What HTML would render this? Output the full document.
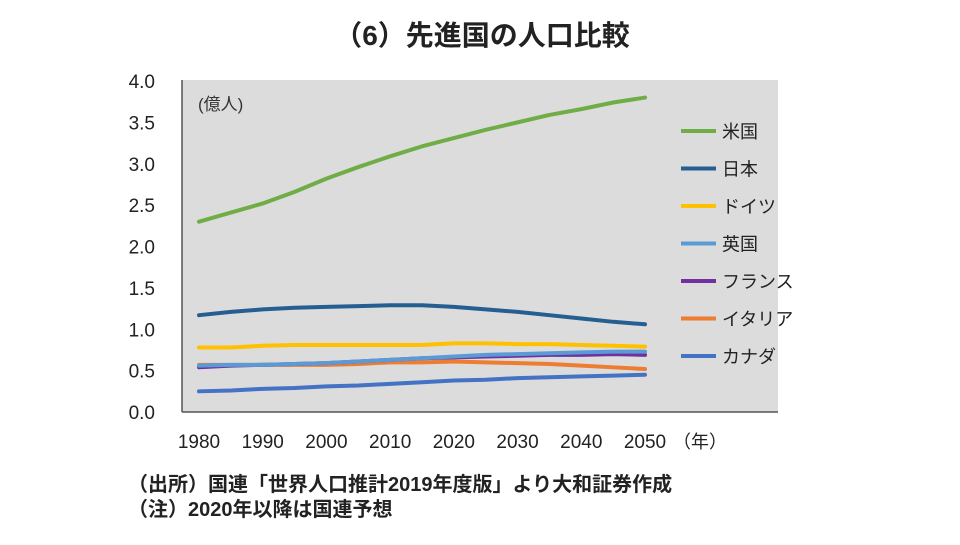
<!DOCTYPE html>
<html><head><meta charset="utf-8"><style>
body{margin:0;background:#fff;font-family:"Liberation Sans","Noto Sans CJK JP",sans-serif;}
svg text{font-family:"Liberation Sans","Noto Sans CJK JP",sans-serif;}
</style></head><body>
<svg id="c" width="960" height="540">
<text x="482" y="45" text-anchor="middle" font-size="28" font-weight="bold" fill="#222">（6）先進国の人口比較</text>
<rect x="182" y="80" width="596" height="332" fill="#dcdcdc"/>
<line x1="182" y1="80" x2="182" y2="412" stroke="#555" stroke-width="1.5"/>
<line x1="182" y1="412" x2="778" y2="412" stroke="#555" stroke-width="1.5"/>
<text x="198" y="110" font-size="17" fill="#333">(億人)</text>
<text x="673" y="448" font-size="18" fill="#222">（年）</text>
<g id="ticks"></g><g id="lines"></g><g id="legend"></g>
<text x="128" y="491" font-size="20" font-weight="bold" fill="#222">（出所）国連「世界人口推計2019年度版」より大和証券作成</text>
<text x="128" y="516" font-size="20" font-weight="bold" fill="#222">（注）2020年以降は国連予想</text>
</svg>
<script>
const years=[1980,1985,1990,1995,2000,2005,2010,2015,2020,2025,2030,2035,2040,2045,2050];
const seriesNames=["米国","日本","ドイツ","英国","フランス","イタリア","カナダ"];
const usa=[2.30,2.41,2.52,2.66,2.82,2.96,3.09,3.21,3.31,3.41,3.50,3.59,3.66,3.74,3.80];
const japan=[1.17,1.21,1.24,1.26,1.27,1.28,1.29,1.29,1.27,1.24,1.21,1.17,1.13,1.09,1.06];
const germany=[0.78,0.78,0.80,0.81,0.81,0.81,0.81,0.81,0.83,0.83,0.82,0.82,0.81,0.80,0.79];
const uk=[0.56,0.57,0.57,0.58,0.59,0.61,0.63,0.65,0.67,0.69,0.70,0.71,0.72,0.73,0.73];
const france=[0.54,0.56,0.57,0.58,0.59,0.61,0.63,0.65,0.66,0.67,0.68,0.69,0.69,0.70,0.69];
const italy=[0.57,0.57,0.57,0.57,0.57,0.58,0.60,0.60,0.61,0.60,0.59,0.58,0.56,0.54,0.52];
const canada=[0.25,0.26,0.28,0.29,0.31,0.32,0.34,0.36,0.38,0.39,0.41,0.42,0.43,0.44,0.45];
const yTicks=["0.0","0.5","1.0","1.5","2.0","2.5","3.0","3.5","4.0"];
const xTicks=["1980","1990","2000","2010","2020","2030","2040","2050"];
const colors=["#70ad47","#255e91","#ffc000","#5b9bd5","#7030a0","#ed7d31","#4472c4"];
const keys=["usa","japan","germany","uk","france","italy","canada"];
const allSeries=[usa,japan,germany,uk,france,italy,canada];
const NS="http://www.w3.org/2000/svg";
const xS=y=>199+(y-1980)*(645-199)/70;
const yS=v=>412-v*82.75;
const tk=document.getElementById('ticks');
yTicks.forEach(t=>{const e=document.createElementNS(NS,'text');
e.setAttribute('x',155);e.setAttribute('y',yS(parseFloat(t))+7);e.setAttribute('font-size',19);e.setAttribute('text-anchor','end');e.setAttribute('fill','#222');e.textContent=t;


tk.appendChild(e);});
xTicks.forEach(t=>{const e=document.createElementNS(NS,'text');
e.setAttribute('x',xS(+t));e.setAttribute('y',448);e.setAttribute('font-size',19);e.setAttribute('text-anchor','middle');e.setAttribute('fill','#222');e.textContent=t;


tk.appendChild(e);});
const lg=document.getElementById('lines'),lgd=document.getElementById('legend');
for(let i=allSeries.length-1;i>=0;i--){
const p=document.createElementNS(NS,'polyline');
p.setAttribute('points',allSeries[i].map((v,j)=>xS(years[j])+','+yS(v)).join(' '));
p.setAttribute('fill','none');p.setAttribute('stroke',colors[i]);p.setAttribute('stroke-width',4);p.setAttribute('stroke-linejoin','round');p.setAttribute('stroke-linecap','round');


lg.appendChild(p);}
seriesNames.forEach((n,i)=>{const y=131+i*37.5;
const g=document.createElementNS(NS,'g');


const l=document.createElementNS(NS,'line');l.setAttribute('x1',681);l.setAttribute('x2',716);l.setAttribute('y1',y);l.setAttribute('y2',y);l.setAttribute('stroke',colors[i]);l.setAttribute('stroke-width',4);
const t=document.createElementNS(NS,'text');t.setAttribute('x',722);t.setAttribute('y',y+7);t.setAttribute('font-size',18);t.setAttribute('fill','#222');t.textContent=n;
g.appendChild(l);g.appendChild(t);lgd.appendChild(g);});
</script>
</body></html>
